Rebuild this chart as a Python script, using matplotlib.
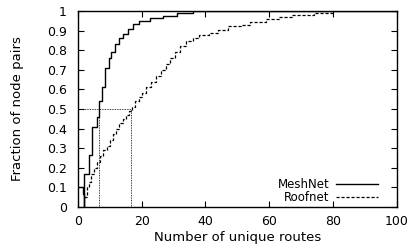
import matplotlib
matplotlib.use("Agg")
import matplotlib.pyplot as plt

# MeshNet CDF (step positions, fraction after step)
mesh_x = [0, 1.5, 2, 2, 3.4, 4.5, 5.9, 6.7, 7.5, 8.5, 9.6, 10.3, 11.6, 12.8,
          14.1, 15.7, 17.2, 19.1, 22.6, 26.6, 31, 36, 100]
mesh_y = [0.1, 0.065, 0.0, 0.17, 0.265, 0.41, 0.46, 0.54, 0.61, 0.71, 0.76,
          0.79, 0.83, 0.86, 0.885, 0.91, 0.935, 0.95, 0.965, 0.975, 0.99, 1.0, 1.0]

# Roofnet CDF
roof_x = [2, 3, 3.5, 4, 5, 6, 7, 8, 9, 10, 11, 12, 13, 14, 15, 16, 17, 18, 19,
          20, 21.5, 23, 24.5, 26, 27.5, 29, 30.5, 32, 34, 36, 38, 41, 44, 47,
          51, 54, 59, 63, 67, 74, 80]
roof_y = [0.05, 0.10, 0.13, 0.17, 0.2, 0.23, 0.26, 0.29, 0.31, 0.34, 0.37,
          0.4, 0.43, 0.45, 0.47, 0.49, 0.51, 0.54, 0.56, 0.58, 0.61, 0.64,
          0.67, 0.70, 0.73, 0.76, 0.79, 0.82, 0.845, 0.86, 0.88, 0.89, 0.905,
          0.925, 0.93, 0.945, 0.96, 0.97, 0.98, 0.99, 1.0]

# medians
mesh_median = 6.7
roof_median = 16.8
median_level = 0.5

x_ticks = [0, 20, 40, 60, 80, 100]
y_ticks = [0, 0.1, 0.2, 0.3, 0.4, 0.5, 0.6, 0.7, 0.8, 0.9, 1]
y_tick_labels = ["0", "0.1", "0.2", "0.3", "0.4", "0.5", "0.6", "0.7", "0.8", "0.9", "1"]

plt.rcParams['font.family'] = ['DejaVu Sans']

fig = plt.figure(figsize=(4.1, 2.5), dpi=100)
ax = fig.add_axes([0.19, 0.172, 0.778, 0.784])

ax.plot(mesh_x, mesh_y, drawstyle='steps-post', color='black', lw=1.0,
        label='MeshNet')
ax.plot(roof_x, roof_y, drawstyle='steps-post', color='black', lw=0.9,
        linestyle=(0, (2.5, 1.5)), label='Roofnet')

dot = dict(color='black', lw=0.6, linestyle=(0, (1, 1)))
ax.plot([0, roof_median], [median_level, median_level], **dot)
ax.plot([mesh_median, mesh_median], [0, median_level], **dot)
ax.plot([roof_median, roof_median], [0, median_level], **dot)

ax.set_xlim(0, 100)
ax.set_ylim(0, 1)
ax.set_xticks(x_ticks)
ax.set_yticks(y_ticks)
ax.set_yticklabels(y_tick_labels)
ax.tick_params(direction='in', top=True, right=True, length=4, width=0.8,
               labelsize=9)
ax.tick_params(axis='y', pad=8)
ax.tick_params(axis='x', pad=6)
for s in ax.spines.values():
    s.set_linewidth(1.0)

ax.set_xlabel("Number of unique routes", fontsize=9.5)
ax.xaxis.set_label_coords(0.5, -0.125)
ax.set_ylabel("Fraction of node pairs", fontsize=9.5)
ax.yaxis.set_label_coords(-0.17, 0.5)

leg = ax.legend(loc='lower right', frameon=False, markerfirst=False,
                fontsize=8.5, handlelength=3.5, handletextpad=0.6,
                labelspacing=0.0, borderaxespad=0.0, alignment='right',
                bbox_to_anchor=(0.955, -0.01))

fig.savefig("out.png", dpi=100)
